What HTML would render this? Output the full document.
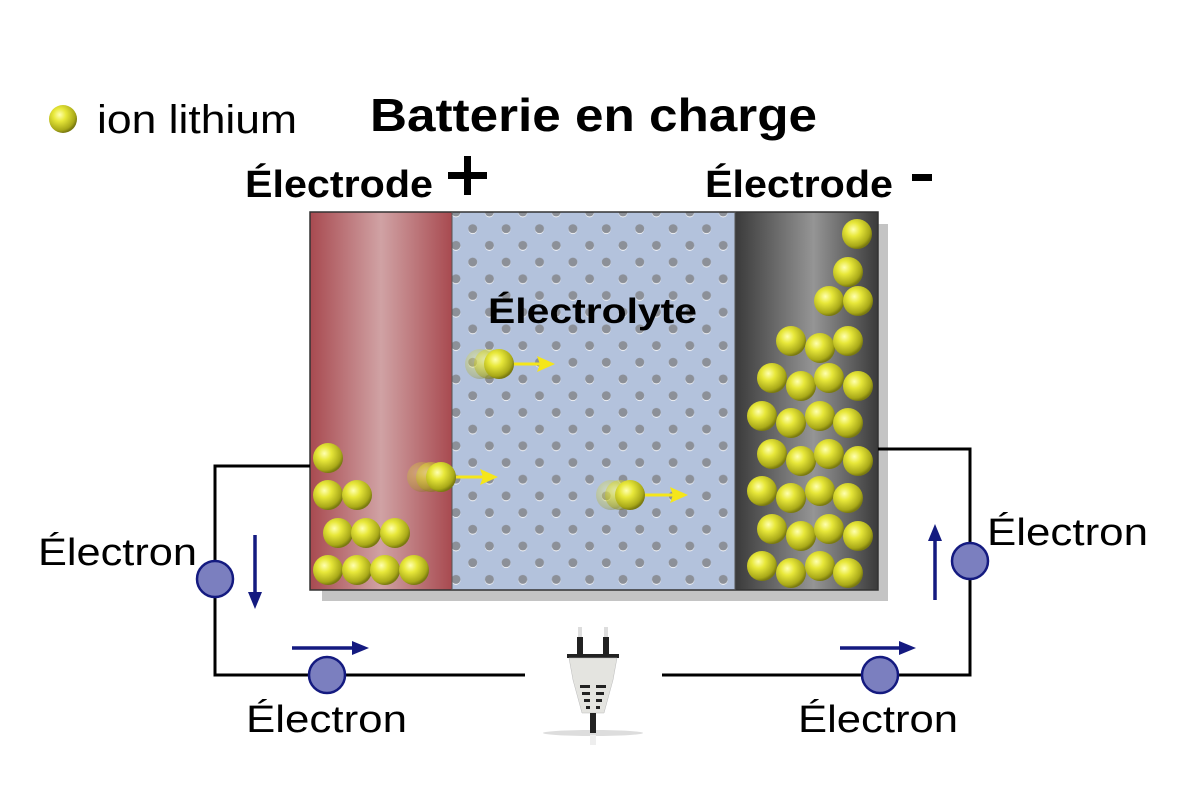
<!DOCTYPE html>
<html><head><meta charset="utf-8"><style>html,body{margin:0;padding:0;background:#fff}svg{display:block}</style></head>
<body>
<svg width="1187" height="804" viewBox="0 0 1187 804" xmlns="http://www.w3.org/2000/svg" font-family="Liberation Sans, sans-serif">
<defs>
<radialGradient id="ball" cx="0.38" cy="0.35" r="0.65">
<stop offset="0" stop-color="#ffffb0"/><stop offset="0.35" stop-color="#e8e83a"/><stop offset="0.85" stop-color="#a8a818"/><stop offset="1" stop-color="#7a7a10"/></radialGradient>
<linearGradient id="red" x1="0" x2="1"><stop offset="0" stop-color="#a84a50"/><stop offset="0.5" stop-color="#d0a2a4"/><stop offset="1" stop-color="#a84a50"/></linearGradient>
<linearGradient id="gray" x1="0" x2="1"><stop offset="0" stop-color="#3a3a3a"/><stop offset="0.55" stop-color="#959595"/><stop offset="1" stop-color="#3a3a3a"/></linearGradient>
<pattern id="dots" x="456" y="212" width="33.4" height="33.4" patternUnits="userSpaceOnUse">
<circle cx="0" cy="34.2" r="4.5" fill="#fff"/><circle cx="0" cy="33.4" r="4.5" fill="#8c9098"/>
<circle cx="33.4" cy="34.2" r="4.5" fill="#fff"/><circle cx="33.4" cy="33.4" r="4.5" fill="#8c9098"/>
<circle cx="0" cy="0.8" r="4.5" fill="#fff"/><circle cx="0" cy="0" r="4.5" fill="#8c9098"/>
<circle cx="33.4" cy="0.8" r="4.5" fill="#fff"/><circle cx="33.4" cy="0" r="4.5" fill="#8c9098"/>
<circle cx="16.7" cy="17.5" r="4.5" fill="#fff"/><circle cx="16.7" cy="16.7" r="4.5" fill="#8c9098"/>
</pattern>
<g id="b"><circle r="15" fill="url(#ball)"/></g>
</defs>
<!-- shadow -->
<rect x="322" y="224" width="566" height="377" fill="#c4c4c4"/>
<rect x="310" y="212" width="142" height="378" fill="url(#red)"/>
<rect x="452" y="212" width="283" height="378" fill="#b3c2dc"/>
<rect x="452" y="212" width="283" height="378" fill="url(#dots)"/>
<rect x="735" y="212" width="143" height="378" fill="url(#gray)"/>
<rect x="310" y="212" width="568" height="378" fill="none" stroke="#333" stroke-width="1.5"/>
<line x1="452" y1="212" x2="452" y2="590" stroke="#555" stroke-width="1"/>
<line x1="735" y1="212" x2="735" y2="590" stroke="#555" stroke-width="1"/>
<!-- wires -->
<polyline points="310,466 215,466 215,675 525,675" fill="none" stroke="#000" stroke-width="3"/>
<polyline points="878,449 970,449 970,675 662,675" fill="none" stroke="#000" stroke-width="3"/>
<!-- balls left -->
<g>
<use href="#b" x="328" y="458"/><use href="#b" x="328" y="495"/><use href="#b" x="357" y="495"/>
<use href="#b" x="338" y="533"/><use href="#b" x="366" y="533"/><use href="#b" x="395" y="533"/>
<use href="#b" x="328" y="570"/><use href="#b" x="357" y="570"/><use href="#b" x="385" y="570"/><use href="#b" x="414" y="570"/>
</g>
<!-- balls right -->
<g>
<use href="#b" x="857" y="234"/><use href="#b" x="848" y="272"/><use href="#b" x="829" y="301"/><use href="#b" x="858" y="301"/>
<use href="#b" x="791" y="341"/><use href="#b" x="820" y="348"/><use href="#b" x="848" y="341"/>
<use href="#b" x="772" y="378"/><use href="#b" x="801" y="386"/><use href="#b" x="829" y="378"/><use href="#b" x="858" y="386"/>
<use href="#b" x="762" y="416"/><use href="#b" x="791" y="423"/><use href="#b" x="820" y="416"/><use href="#b" x="848" y="423"/>
<use href="#b" x="772" y="454"/><use href="#b" x="801" y="461"/><use href="#b" x="829" y="454"/><use href="#b" x="858" y="461"/>
<use href="#b" x="762" y="491"/><use href="#b" x="791" y="498"/><use href="#b" x="820" y="491"/><use href="#b" x="848" y="498"/>
<use href="#b" x="772" y="529"/><use href="#b" x="801" y="536"/><use href="#b" x="829" y="529"/><use href="#b" x="858" y="536"/>
<use href="#b" x="762" y="566"/><use href="#b" x="791" y="573"/><use href="#b" x="820" y="566"/><use href="#b" x="848" y="573"/>
</g>
<!-- moving ions -->
<g>
<use href="#b" x="480" y="364" opacity="0.3"/><use href="#b" x="489" y="364" opacity="0.5"/><use href="#b" x="499" y="364"/>
<line x1="514" y1="364" x2="545" y2="364" stroke="#f5e61a" stroke-width="3"/><polygon points="555,364 537,356 540,364 537,372" fill="#f5e61a"/>
<use href="#b" x="422" y="477" opacity="0.3"/><use href="#b" x="431" y="477" opacity="0.5"/><use href="#b" x="441" y="477"/>
<line x1="456" y1="477" x2="488" y2="477" stroke="#f5e61a" stroke-width="3"/><polygon points="498,477 480,469 483,477 480,485" fill="#f5e61a"/>
<use href="#b" x="611" y="495" opacity="0.3"/><use href="#b" x="620" y="495" opacity="0.5"/><use href="#b" x="630" y="495"/>
<line x1="645" y1="495" x2="678" y2="495" stroke="#f5e61a" stroke-width="3"/><polygon points="688,495 670,487 673,495 670,503" fill="#f5e61a"/>
</g>
<!-- electrons -->
<g fill="#7b7fbf" stroke="#141a80" stroke-width="2.5">
<circle cx="215" cy="579" r="18"/><circle cx="327" cy="675" r="18"/><circle cx="970" cy="561" r="18"/><circle cx="880" cy="675" r="18"/>
</g>
<g stroke="#141a80" stroke-width="3.5" fill="#141a80">
<line x1="255" y1="535" x2="255" y2="598"/><polygon points="255,609 248,592 262,592" stroke="none"/>
<line x1="292" y1="648" x2="358" y2="648"/><polygon points="369,648 352,641 352,655" stroke="none"/>
<line x1="935" y1="600" x2="935" y2="535"/><polygon points="935,524 928,541 942,541" stroke="none"/>
<line x1="840" y1="648" x2="905" y2="648"/><polygon points="916,648 899,641 899,655" stroke="none"/>
</g>
<!-- plug -->
<g>
<ellipse cx="593" cy="733" rx="50" ry="3" fill="#ddd"/>
<rect x="578" y="627" width="4" height="10" fill="#ddd"/><rect x="604" y="627" width="4" height="10" fill="#ddd"/>
<rect x="577" y="637" width="6" height="18" fill="#222"/><rect x="603" y="637" width="6" height="18" fill="#222"/>
<rect x="567" y="654" width="52" height="4" fill="#222"/>
<path d="M569,658 L617,658 L613,680 L604,713 L582,713 L573,680 Z" fill="#e4e4e0" stroke="#bbb" stroke-width="0.5"/>
<g fill="#222"><rect x="580" y="685" width="10" height="3"/><rect x="596" y="685" width="10" height="3"/>
<rect x="582" y="692" width="8" height="3"/><rect x="596" y="692" width="8" height="3"/>
<rect x="584" y="699" width="6" height="3"/><rect x="596" y="699" width="6" height="3"/>
<rect x="586" y="706" width="4" height="3"/><rect x="596" y="706" width="4" height="3"/></g>
<rect x="590" y="713" width="6" height="20" fill="#222"/>
<rect x="590" y="735" width="6" height="10" fill="#eee"/>
</g>
<!-- legend -->
<circle cx="63" cy="119" r="14" fill="url(#ball)"/>
<text x="97" y="133" font-size="40" textLength="200" lengthAdjust="spacingAndGlyphs">ion lithium</text>
<text x="370" y="131" font-size="46" font-weight="bold" textLength="447" lengthAdjust="spacingAndGlyphs">Batterie en charge</text>
<text x="245" y="197" font-size="38" font-weight="bold" textLength="188" lengthAdjust="spacingAndGlyphs">Électrode</text>
<rect x="448" y="172" width="39" height="7" fill="#000"/><rect x="464" y="156" width="7" height="39" fill="#000"/>
<text x="705" y="197" font-size="38" font-weight="bold" textLength="188" lengthAdjust="spacingAndGlyphs">Électrode</text>
<rect x="912" y="174" width="20" height="7" fill="#000"/>
<text x="488" y="323" font-size="35" font-weight="bold" textLength="209" lengthAdjust="spacingAndGlyphs">Électrolyte</text>
<g font-size="38">
<text x="38" y="565" textLength="159" lengthAdjust="spacingAndGlyphs">Électron</text>
<text x="987" y="545" textLength="161" lengthAdjust="spacingAndGlyphs">Électron</text>
<text x="246" y="732" textLength="161" lengthAdjust="spacingAndGlyphs">Électron</text>
<text x="798" y="732" textLength="160" lengthAdjust="spacingAndGlyphs">Électron</text>
</g>
</svg>
</body></html>
